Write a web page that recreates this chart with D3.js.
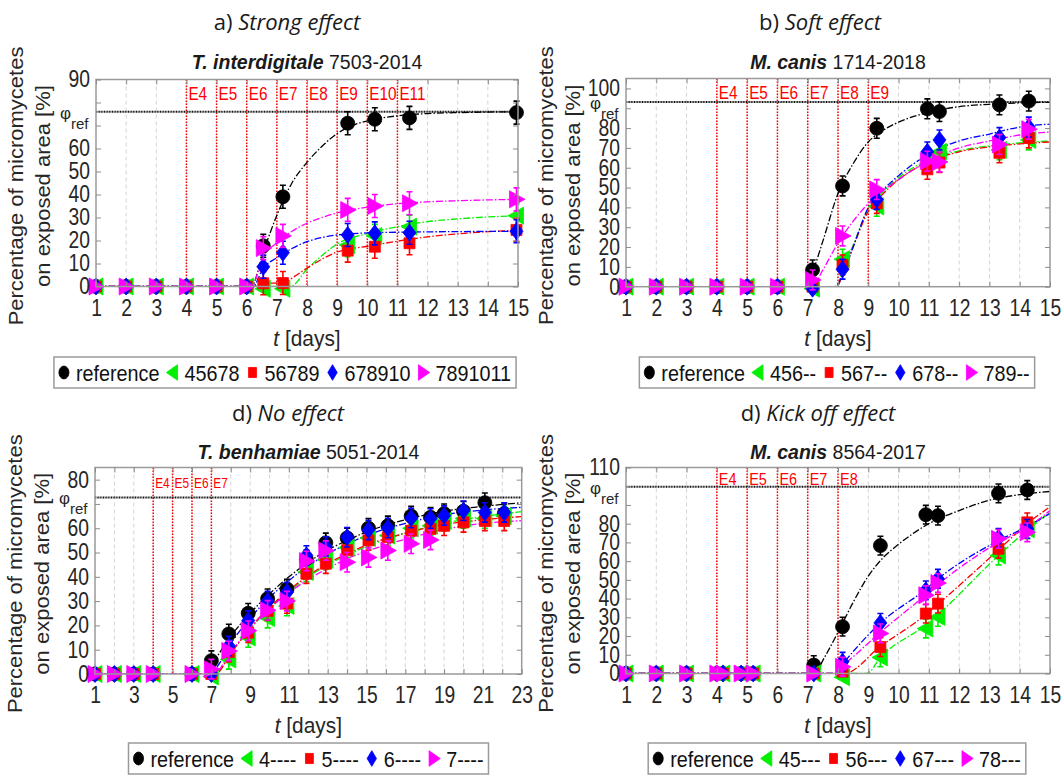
<!DOCTYPE html>
<html lang="en">
<head>
<meta charset="UTF-8">
<title>Micromycetes growth</title>
<script src="https://d3js.org/d3.v7.min.js"></script>
<style>
    html, body { margin: 0; background: #fff; }
    svg { display: block; font-family: "Liberation Sans", Arial, sans-serif; }
</style>
</head>
<body>
<div id="vis"></div>
<script>
// ---- a) Strong effect, T. interdigitale 7503-2014
var aT   = [1, 2, 3, 4, 5, 6, 6.55, 7.2, 9.35, 10.25, 11.4, 14.95];
var aRef = [0, 0, 0, 0, 0, 0, 17.7, 39, 71, 72.7, 73.3, 75.6];
var aG   = [0, 0, 0, 0, 0, 0, -1, -1, 18, 22, 26, 30.8];
var aR   = [0, 0, 0, 0, 0, 0, 1.4, 1.5, 15.6, 17.3, 18.8, 24.6];
var aB   = [0, 0, 0, 0, 0, 0, 8.6, 14.7, 22.4, 23.1, 23.4, 24];
var aM   = [0, 0, 0, 0, 0, 0, 16.7, 22, 33.3, 35, 36.2, 37.9];
var aFitRef = [[1,0],[6.15,0],[6.55,15],[7,31],[7.5,45],[8,54],[8.5,61],[9,66.5],[9.5,70],[10,72],[11,74.2],[12,75.2],[13,75.6],[15,76]];
var aFitG = [[1,0],[7.45,0],[8,7.5],[8.5,13.5],[9,18.5],[10,23],[11,26],[12,28.2],[13,29.4],[15,30.8]];
var aFitR = [[1,0],[6.2,0],[6.55,1.4],[7.2,1.6],[7.6,4.5],[8,8],[9,15],[10,17.5],[11,19.7],[12,21.6],[13,22.9],[15,24.5]];
var aFitB = [[1,0],[6.2,0],[6.55,8],[7,12.5],[7.5,16.5],[8,19.5],[8.5,21.3],[9,22.4],[10,23.3],[11,23.6],[15,24]];
var aFitM = [[1,0],[6.15,0],[6.55,13],[7,19],[7.5,24],[8,27.5],[8.5,30],[9,32],[10,34.5],[11,36],[12,36.8],[13,37.3],[15,37.9]];
var aPhi = 76;
var aE = [4, 5, 6, 7, 8, 9, 10, 11];
var aLegend = ['reference', '45678', '56789', '678910', '7891011'];

// ---- b) Soft effect, M. canis 1714-2018
var bT   = [1, 2, 3, 4, 5, 6, 7.16, 8.15, 9.28, 10.95, 11.35, 13.33, 14.3];
var bRef = [0, 0, 0, 0, 0, 0, 8.5, 50.8, 79.9, 89.7, 88.3, 91.7, 93.6];
var bG   = [0, 0, 0, 0, 0, 0, -1, 13.9, 40.5, 64, 68, 69, 74];
var bR   = [0, 0, 0, 0, 0, 0, 0, 11, 42, 59.2, 62.6, 67.5, 75];
var bB   = [0, 0, 0, 0, 0, 0, -1, 8.8, 44, 68, 74, 75.2, 80.5];
var bM   = [0, 0, 0, 0, 0, 0, 3.4, 25.6, 49, 63.3, 62.9, 71.7, 79.4];
var bFitRef = [[1,0],[6.95,0],[7.2,9],[7.5,23],[8,47],[8.5,62],[9,73],[9.5,79],[10,83],[11,88],[12,90.8],[13,92],[15,93]];
var bFitG = [[1,0],[7.95,0],[8.2,10],[8.5,21],[9,39],[9.5,48],[10,55],[11,64],[12,68.5],[13,71],[14,72.5],[15,73.5]];
var bFitR = [[1,0],[7.95,0],[8.2,8],[8.5,20],[9,38],[9.5,47],[10,54],[11,63],[12,68],[13,70.5],[14,72],[15,73]];
var bFitB = [[1,0],[7.9,0],[8.2,8],[8.5,20],[9,40],[9.5,49],[10,56],[11,67],[12,73.5],[13,77],[14,80.5],[15,82]];
var bFitM = [[1,0],[7.15,0],[7.5,8.5],[8,22],[8.5,33],[9,42],[10,54],[11,63.5],[12,70],[13,73.5],[14,76.5],[15,78]];
var bPhi = 93.1;
var bE = [4, 5, 6, 7, 8, 9];
var bLegend = ['reference', '456--', '567--', '678--', '789--'];

// ---- c) No effect, T. benhamiae 5051-2014
var cT   = [1, 2, 3, 4, 6, 7, 7.9, 8.9, 9.9, 10.9, 11.9, 12.9, 14, 15.1, 16.1, 17.3, 18.3, 19, 20, 21.1, 22.1];
var cRef = [0, 0, 0, 0, 0, 5.5, 16.5, 25, 31, 35, 47, 54, 56, 60, 61, 65, 64.5, 66, 67, 70.5, 66];
var cG   = [0, 0, 0, 0, 0, -1, 6, 15, 23, 28, 42, 47, 52, 56, 57, 60, 61, 63, 64, 64, 65];
var cR   = [0, 0, 0, 0, 0, 0, 9, 17, 26, 29, 41.3, 45.4, 51, 55, 56.3, 59, 59.7, 61, 62.4, 63, 63];
var cB   = [0, 0, 0, 0, 0, 0, 11.5, 22, 30, 33.7, 48.8, 52.5, 56.3, 59.3, 60.1, 64.2, 64, 65.2, 67.2, 66.5, 66.5];
var cM   = [0, 0, 0, 0, 0, 2, 9.5, 17.8, 26.2, 30, 46.5, 50.8, 46, 48, 50.8, 53.6, 55.2, null, null, null, null];
var cFitRef = [[1,0],[6.8,0],[7,3],[8,15.5],[9,25],[10,33],[11,40],[12,46],[13,51],[14,55],[15,58.5],[17,63.5],[19,67],[21,69],[23,70.5]];
var cFitG = [[1,0],[7.2,0],[8,8.5],[9,18.5],[10,27],[11,34],[12,40],[13,45],[14,49],[15,52.5],[17,58],[19,62],[21,64.8],[23,66.8]];
var cFitR = [[1,0],[7.2,0],[8,8.5],[9,19],[10,27.5],[11,34.5],[12,40.5],[13,45.5],[14,49.5],[15,53],[17,58],[19,61.5],[21,63.5],[23,64.8]];
var cFitB = [[1,0],[6.9,0],[7.2,2],[8,12.5],[9,23],[10,31.5],[11,38.5],[12,44.5],[13,49.5],[14,53.5],[15,57],[17,62],[19,65.5],[21,67.5],[23,68.6]];
var cFitM = [[1,0],[7.1,0],[8,9],[9,19],[10,27],[11,33.5],[12,39],[13,43.5],[14,47.5],[15,50.5],[17,55.5],[19,59.5],[21,62],[23,63.1]];
var cPhi = 72.7;
var cE = [4, 5, 6, 7];
var cLegend = ['reference', '4----', '5----', '6----', '7----'];

// ---- d) Kick off effect, M. canis 8564-2017
var dT   = [1, 2, 3, 4, 4.2, 4.8, 5.2, 7.2, 8.15, 9.4, 10.9, 11.3, 13.3, 14.25];
var dRef = [0, 0, 0, 0, 0, 0, 0, 4.5, 25, 68.3, 84.8, 84.3, 96.2, 98];
var dG   = [0, 0, 0, 0, 0, 0, 0, 0, -2, 8.6, 24, 30.2, 63, 77];
var dR   = [0, 0, 0, 0, 0, 0, 0, 0, 1, 14.1, 32, 37.3, 66.6, 80.7];
var dB   = [0, 0, 0, 0, 0, 0, 0, 0, 6.3, 27, 44.4, 50.6, 72.4, 77.2];
var dM   = [0, 0, 0, 0, 0, 0, 0, 0, 3.6, 21.4, 41.8, 48.3, 71.9, 75.4];
var dFitRef = [[1,0],[7.25,0],[7.5,7],[8,22],[8.5,38],[9,52],[9.5,62],[10,69],[11,80],[12,87],[13,92.5],[14,95.5],[15,97.2]];
var dFitG = [[1,0],[8.95,0],[9.4,8.6],[10.9,26],[11.3,31.5],[13.3,63],[14.25,76.5],[15,86]];
var dFitR = [[1,0],[8.2,0],[9.4,14.5],[10.9,31.5],[11.3,37],[13.3,66],[14.25,80],[15,89]];
var dFitB = [[1,0],[7.9,0],[8.15,5],[9.4,27],[10.9,45],[11.3,50.5],[13.3,71],[14.25,78.5],[15,85.5]];
var dFitM = [[1,0],[7.85,0],[8.15,4],[9.4,22],[10.9,42],[11.3,47.5],[13.3,70],[14.25,78],[15,87]];
var dPhi = 99.7;
var dE = [4, 5, 6, 7, 8];
var dLegend = ['reference', '45---', '56---', '67---', '78---'];

var colours = ['#000000', '#00f000', '#ff0000', '#0000ff', '#ff00ff'];
var shapes = ['circle', 'left', 'square', 'diamond', 'right'];
var markerPaths = {
    circle: 'M-7,0A7,7 0 1,0 7,0A7,7 0 1,0 -7,0Z',
    left: 'M-8.5,0L7,-8.5L7,8.5Z',
    square: 'M-5.5,-5.5H5.5V5.5H-5.5Z',
    diamond: 'M0,-8.5L6.5,0L0,8.5L-6.5,0Z',
    right: 'M8.5,0L-7,-8.5L-7,8.5Z'
};

var panels = [
    {x0: 96, x1: 518, y0: 79.5, y1: 286.5, xDom: [1, 15], yDom: [0, 90], xTicks: d3.range(1, 16), odd: false,
     t: aT, vals: [aRef, aG, aR, aB, aM], fits: [aFitRef, aFitG, aFitR, aFitB, aFitM], phi: aPhi, eDays: aE,
     eFont: 18, eBase: 20, err: 5, title: ['a) ', 'Strong effect'], titleX: 287, titleY: 30,
     sub: ['T. interdigitale', ' 7503-2014'], subY: 69, legend: aLegend, legX: 285, legY: 357},
    {x0: 626, x1: 1050, y0: 78.5, y1: 286.7, xDom: [1, 15], yDom: [0, 105], xTicks: d3.range(1, 16), odd: false,
     t: bT, vals: [bRef, bG, bR, bB, bM], fits: [bFitRef, bFitG, bFitR, bFitB, bFitM], phi: bPhi, eDays: bE,
     eFont: 18, eBase: 20, err: 5, title: ['b) ', 'Soft effect'], titleX: 820, titleY: 30,
     sub: ['M. canis', ' 1714-2018'], subY: 69, legend: bLegend, legX: 837, legY: 357},
    {x0: 95, x1: 521.7, y0: 467.5, y1: 674, xDom: [1, 23], yDom: [0, 85], xTicks: d3.range(1, 24), odd: true,
     t: cT, vals: [cRef, cG, cR, cB, cM], fits: [cFitRef, cFitG, cFitR, cFitB, cFitM], phi: cPhi, eDays: cE,
     eFont: 14, eBase: 20.5, err: 4, title: ['d) ', 'No effect'], titleX: 288, titleY: 421,
     sub: ['T. benhamiae', ' 5051-2014'], subY: 459, legend: cLegend, legX: 308.5, legY: 743},
    {x0: 626, x1: 1050, y0: 467.5, y1: 673.5, xDom: [1, 15], yDom: [0, 110], xTicks: d3.range(1, 16), odd: false,
     t: dT, vals: [dRef, dG, dR, dB, dM], fits: [dFitRef, dFitG, dFitR, dFitB, dFitM], phi: dPhi, eDays: dE,
     eFont: 17, eBase: 17, err: 5, title: ['d) ', 'Kick off effect'], titleX: 818, titleY: 421,
     sub: ['M. canis', ' 8564-2017'], subY: 459, legend: dLegend, legX: 837, legY: 743}
];

var svg = d3.select('#vis')
    .append('svg')
    .attr('width', 1064)
    .attr('height', 777);

var tickK = 0.84, legK = 0.9;

// squeeze a text horizontally around its own anchor point
function squeeze(sel, k) {
    sel.each(function() {
        var t = d3.select(this);
        var x = +t.attr('x') || 0, y = +t.attr('y') || 0;
        t.attr('x', null).attr('y', null)
            .attr('transform', 'translate(' + x + ',' + y + ') scale(' + k + ',1)');
    });
}

panels.forEach(function(p, pi) {
    var x = d3.scaleLinear().domain(p.xDom).range([p.x0, p.x1]);
    var y = d3.scaleLinear().domain(p.yDom).range([p.y1, p.y0]);
    var g = svg.append('g');

    g.append('clipPath').attr('id', 'clip' + pi)
        .append('rect')
        .attr('x', p.x0).attr('y', p.y0)
        .attr('width', p.x1 - p.x0).attr('height', p.y1 - p.y0);

    // vertical dashed grid
    g.selectAll('.grid')
        .data(p.xTicks.slice(1, -1))
        .enter().append('line')
        .attr('x1', function(d) { return x(d); })
        .attr('x2', function(d) { return x(d); })
        .attr('y1', p.y0).attr('y2', p.y1)
        .attr('stroke', '#d4d4d4')
        .attr('stroke-width', 1)
        .attr('stroke-dasharray', '4,3');

    // exposure lines
    g.selectAll('.eline')
        .data(p.eDays)
        .enter().append('line')
        .attr('x1', function(d) { return x(d); })
        .attr('x2', function(d) { return x(d); })
        .attr('y1', p.y0).attr('y2', p.y1)
        .attr('stroke', '#ff0000')
        .attr('stroke-width', 1.5)
        .attr('stroke-dasharray', '1.5,1.5');

    g.selectAll('.elab')
        .data(p.eDays)
        .enter().append('text')
        .attr('transform', function(d) { return 'translate(' + (x(d) + 2) + ',' + (p.y0 + p.eBase) + ') scale(0.85,1)'; })
        .attr('font-size', p.eFont)
        .attr('fill', '#ff0000')
        .text(function(d) { return 'E' + d; });

    // phi_ref line
    g.append('line')
        .attr('x1', p.x0).attr('x2', p.x1)
        .attr('y1', y(p.phi)).attr('y2', y(p.phi))
        .attr('stroke', '#111')
        .attr('stroke-width', 2)
        .attr('stroke-dasharray', '1,0.6');

    // fitted curves
    var line = d3.line()
        .curve(d3.curveMonotoneX)
        .x(function(d) { return x(d[0]); })
        .y(function(d) { return y(d[1]); });

    p.fits.forEach(function(f, si) {
        g.append('path')
            .attr('d', line(f))
            .attr('clip-path', 'url(#clip' + pi + ')')
            .attr('fill', 'none')
            .attr('stroke', colours[si])
            .attr('stroke-width', 1.3)
            .attr('stroke-dasharray', '7,2,1.5,2');
    });

    // measured points with error bars
    p.vals.forEach(function(vals, si) {
        var pts = p.t.map(function(t, i) { return {t: t, v: vals[i]}; })
            .filter(function(d) { return d.v !== null; });
        var col = colours[si];
        var s = g.append('g');
        var eb = pts.filter(function(d) { return d.v > 1; });
        s.selectAll('.eb').data(eb).enter().append('path')
            .attr('d', function(d) {
                var cx = x(d.t), ya = y(d.v - p.err), yb = y(d.v + p.err);
                return 'M' + cx + ',' + ya + 'V' + yb + 'M' + (cx - 3) + ',' + ya + 'H' + (cx + 3) + 'M' + (cx - 3) + ',' + yb + 'H' + (cx + 3);
            })
            .attr('stroke', col)
            .attr('stroke-width', 1.6)
            .attr('fill', 'none');
        s.selectAll('.pt').data(pts).enter().append('path')
            .attr('d', markerPaths[shapes[si]])
            .attr('transform', function(d) { return 'translate(' + x(d.t) + ',' + y(d.v) + ')'; })
            .attr('fill', col)
            .attr('stroke', col)
            .attr('stroke-width', 0.8);
    });

    // box
    g.append('rect')
        .attr('x', p.x0).attr('y', p.y0)
        .attr('width', p.x1 - p.x0).attr('height', p.y1 - p.y0)
        .attr('fill', 'none')
        .attr('stroke', '#9a9a9a')
        .attr('stroke-width', 1.5);

    var yTicks = d3.range(p.yDom[0], p.yDom[1] + 0.1, 10);

    var xb = g.append('g').attr('transform', 'translate(0,' + p.y1 + ')')
        .call(d3.axisBottom(x).tickValues(p.xTicks).tickSize(-5).tickPadding(13)
            .tickFormat(function(d) { return (!p.odd || d % 2 === 1) ? d : ''; }));
    var xt = g.append('g').attr('transform', 'translate(0,' + p.y0 + ')')
        .call(d3.axisTop(x).tickValues(p.xTicks).tickSize(-5).tickFormat(''));
    var yl = g.append('g').attr('transform', 'translate(' + p.x0 + ',0)')
        .call(d3.axisLeft(y).tickValues(yTicks).tickSize(-5).tickPadding(6));
    var yr = g.append('g').attr('transform', 'translate(' + p.x1 + ',0)')
        .call(d3.axisRight(y).tickValues(yTicks).tickSize(-5).tickFormat(''));

    [xb, xt, yl, yr].forEach(function(a) {
        a.select('.domain').remove();
        a.selectAll('line').attr('stroke', '#8c8c8c');
        a.selectAll('text')
            .attr('font-size', 23)
            .attr('font-family', '"Liberation Sans", Arial, sans-serif')
            .attr('fill', '#262626');
    });
    var py = y(p.phi);
    yl.selectAll('text').filter(function(d) {
        var dy = y(d) - py;
        return dy > -11 && dy < 21;
    }).remove();
    squeeze(xb.selectAll('text'), tickK);
    squeeze(yl.selectAll('text'), tickK);

    // phi_ref label
    g.append('text')
        .attr('transform', 'translate(' + (p.x0 - 36) + ',' + (py + 7) + ')')
        .attr('font-size', 17).attr('fill', '#262626')
        .text('\u03c6');
    g.append('text')
        .attr('transform', 'translate(' + (p.x0 - 25) + ',' + (py + 17) + ')')
        .attr('font-size', 15).attr('fill', '#262626')
        .text('ref');

    // axis titles
    var xl = g.append('text')
        .attr('transform', 'translate(' + ((p.x0 + p.x1) / 2) + ',' + (p.y1 + 59) + ') scale(0.95,1)')
        .attr('text-anchor', 'middle')
        .attr('font-size', 22).attr('fill', '#262626');
    xl.append('tspan').attr('font-style', 'italic').text('t');
    xl.append('tspan').text(' [days]');

    var cy = (p.y0 + p.y1) / 2 + 3;
    g.append('text')
        .attr('transform', 'translate(' + (p.x0 - 73) + ',' + cy + ') scale(0.88,1) rotate(-90)')
        .attr('text-anchor', 'middle')
        .attr('font-size', 22).attr('fill', '#262626')
        .text('Percentage of micromycetes');
    g.append('text')
        .attr('transform', 'translate(' + (p.x0 - 46) + ',' + cy + ') scale(0.88,1) rotate(-90)')
        .attr('text-anchor', 'middle')
        .attr('font-size', 22).attr('fill', '#262626')
        .text('on exposed area [%]');

    // titles
    var tt = g.append('text')
        .attr('transform', 'translate(' + p.titleX + ',' + p.titleY + ')')
        .attr('text-anchor', 'middle')
        .attr('font-family', '"Open Sans", "Noto Sans", sans-serif')
        .attr('font-size', 22).attr('fill', '#1a1a1a');
    tt.append('tspan').text(p.title[0]);
    tt.append('tspan').attr('font-style', 'italic').text(p.title[1]);

    var st = g.append('text')
        .attr('transform', 'translate(' + ((p.x0 + p.x1) / 2) + ',' + p.subY + ')')
        .attr('text-anchor', 'middle')
        .attr('font-size', 19.5).attr('fill', '#1a1a1a');
    st.append('tspan').attr('font-weight', 'bold').attr('font-style', 'italic').text(p.sub[0]);
    st.append('tspan').text(p.sub[1]);

    // legend
    var lg = g.append('g');
    var box = lg.append('rect')
        .attr('y', 0).attr('height', 31)
        .attr('fill', '#fff')
        .attr('stroke', '#9a9a9a')
        .attr('stroke-width', 1.5);
    var cursor = 10;
    p.legend.forEach(function(name, si) {
        lg.append('path')
            .attr('d', markerPaths[shapes[si]])
            .attr('transform', 'translate(' + cursor + ',15.5) scale(0.72,0.92)')
            .attr('fill', colours[si]).attr('stroke', colours[si]);
        var tx = lg.append('text')
            .attr('transform', 'translate(' + (cursor + 12) + ',23.5) scale(' + legK + ',1)')
            .attr('font-size', 22).attr('fill', '#111')
            .text(name);
        var w = tx.node().getComputedTextLength() * legK;
        cursor = cursor + 12 + w + 13;
    });
    var bw = cursor - 13 + 5;
    box.attr('x', 0).attr('width', bw);
    lg.attr('transform', 'translate(' + (p.legX - bw / 2) + ',' + p.legY + ')');
});
</script>
</body>
</html>
